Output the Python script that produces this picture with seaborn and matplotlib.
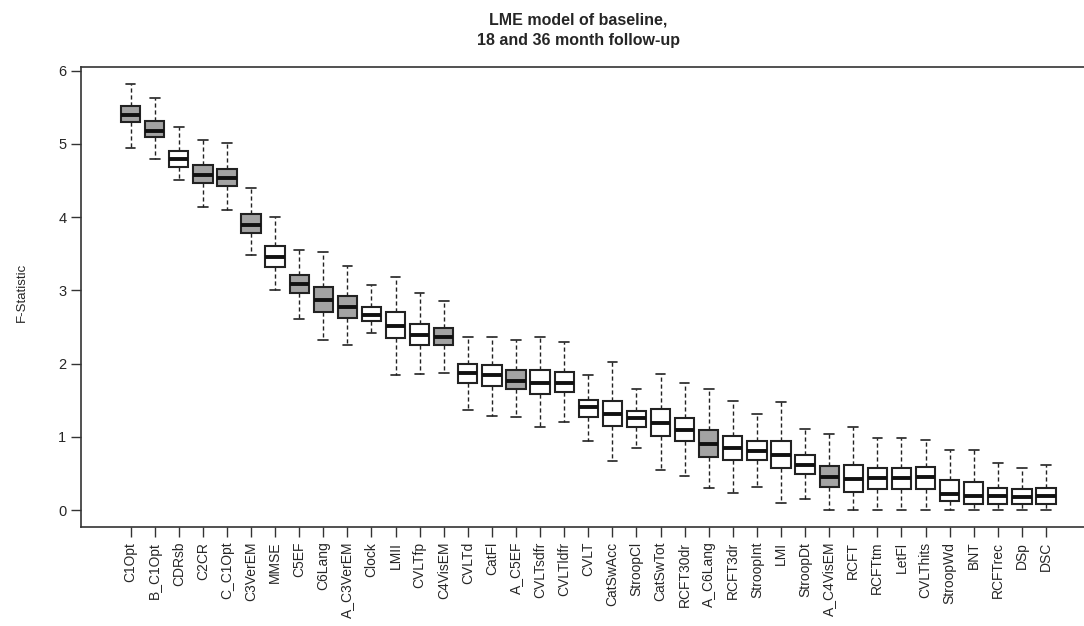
import matplotlib
matplotlib.use('Agg')
import matplotlib.pyplot as plt
import seaborn as sns
import numpy as np
import pandas as pd

# F-statistic summaries per measure
measures = ['C1Opt', 'B_C1Opt', 'CDRsb', 'C2CR', 'C_C1Opt', 'C3VerEM', 'MMSE', 'C5EF',
            'C6Lang', 'A_C3VerEM', 'Clock', 'LMII', 'CVLTfp', 'C4VisEM', 'CVLTd', 'CatFl',
            'A_C5EF', 'CVLTsdfr', 'CVLTldfr', 'CVLT', 'CatSwAcc', 'StroopCl', 'CatSwTot',
            'RCFT30dr', 'A_C6Lang', 'RCFT3dr', 'StroopInt', 'LMI', 'StroopDt', 'A_C4VisEM',
            'RCFT', 'RCFTtm', 'LetFl', 'CVLThits', 'StroopWd', 'BNT', 'RCFTrec', 'DSp', 'DSC']
whis_low = [4.95, 4.80, 4.51, 4.14, 4.10, 3.49, 3.00, 2.61, 2.33, 2.25, 2.42, 1.85, 1.86,
            1.88, 1.37, 1.29, 1.27, 1.14, 1.21, 0.94, 0.67, 0.85, 0.55, 0.47, 0.30, 0.24,
            0.32, 0.10, 0.15, 0.01, 0.01, 0.01, 0.01, 0.01, 0.01, 0.01, 0.01, 0.01, 0.01]
q1 = [5.30, 5.09, 4.68, 4.46, 4.42, 3.78, 3.32, 2.97, 2.71, 2.63, 2.58, 2.35, 2.26,
      2.25, 1.74, 1.69, 1.65, 1.59, 1.61, 1.27, 1.15, 1.14, 1.02, 0.94, 0.73, 0.68,
      0.68, 0.58, 0.50, 0.32, 0.25, 0.29, 0.29, 0.29, 0.12, 0.09, 0.09, 0.09, 0.09]
median = [5.40, 5.18, 4.79, 4.58, 4.54, 3.90, 3.46, 3.09, 2.87, 2.78, 2.67, 2.52, 2.39,
          2.37, 1.87, 1.84, 1.77, 1.74, 1.74, 1.41, 1.32, 1.26, 1.19, 1.10, 0.90, 0.85,
          0.81, 0.76, 0.62, 0.46, 0.42, 0.44, 0.44, 0.46, 0.22, 0.20, 0.19, 0.18, 0.19]
q3 = [5.52, 5.31, 4.91, 4.71, 4.66, 4.04, 3.60, 3.21, 3.05, 2.93, 2.78, 2.71, 2.54,
      2.49, 2.00, 1.98, 1.92, 1.91, 1.89, 1.50, 1.49, 1.36, 1.38, 1.26, 1.10, 1.02,
      0.94, 0.95, 0.75, 0.61, 0.62, 0.57, 0.57, 0.59, 0.41, 0.38, 0.31, 0.29, 0.31]
whis_high = [5.82, 5.62, 5.23, 5.06, 5.01, 4.40, 4.00, 3.55, 3.53, 3.34, 3.07, 3.19, 2.96,
             2.85, 2.37, 2.37, 2.32, 2.37, 2.29, 1.84, 2.02, 1.66, 1.86, 1.74, 1.65, 1.49,
             1.31, 1.48, 1.11, 1.04, 1.13, 0.98, 0.98, 0.96, 0.82, 0.82, 0.64, 0.58, 0.62]
shaded = [1, 1, 0, 1, 1, 1, 0, 1, 1, 1, 0, 0, 0, 1, 0, 0, 1, 0, 0, 0, 0, 0, 0, 0, 1, 0,
          0, 0, 0, 1, 0, 0, 0, 0, 0, 0, 0, 0, 0]

# five values per measure -> quartiles land exactly on q1/median/q3
rows = []
for i, name in enumerate(measures):
    grp = 'shaded' if shaded[i] else 'plain'
    for v in (whis_low[i], q1[i], median[i], q3[i], whis_high[i]):
        rows.append({'measure': name, 'F': v, 'grp': grp})
df = pd.DataFrame(rows)

sns.set_style('ticks')
plt.rcParams['font.family'] = ['Liberation Sans', 'DejaVu Sans']

fig = plt.figure(figsize=(10.84, 6.26), dpi=100)
ax = fig.add_axes([0.0747, 0.158, 0.936, 0.735])

sns.boxplot(data=df, x='measure', y='F', hue='grp', order=measures,
            palette={'shaded': '#a3a3a3', 'plain': 'white'}, dodge=False, legend=False,
            whis=(0, 100), width=0.8, linecolor='#222222', linewidth=1.5,
            whiskerprops={'linestyle': (0, (3, 2)), 'linewidth': 1.0},
            capprops={'linewidth': 1.2},
            medianprops={'linewidth': 2.8, 'color': '#111111'},
            showfliers=False, ax=ax)

ax.set_xlim(-2.06, 40.06)
ax.set_ylim(-0.23, 6.05)
ax.set_yticks(range(0, 7))
ax.set_xlabel('')
ax.set_ylabel('F-Statistic', fontsize=9.5)
ax.yaxis.set_label_coords(-0.052, 0.51)
ax.tick_params(axis='x', labelrotation=90, labelsize=10, length=7, width=1.0, color='#333333')
ax.tick_params(axis='y', labelsize=10.5, length=7, width=1.0, color='#333333')
for s in ax.spines.values():
    s.set_linewidth(1.2)
    s.set_color('#333333')

ax.set_title('LME model of baseline,\n18 and 36 month follow-up',
             fontsize=11.5, fontweight='bold', pad=16, x=0.49, linespacing=1.45)

fig.savefig('out.png', dpi=100)
